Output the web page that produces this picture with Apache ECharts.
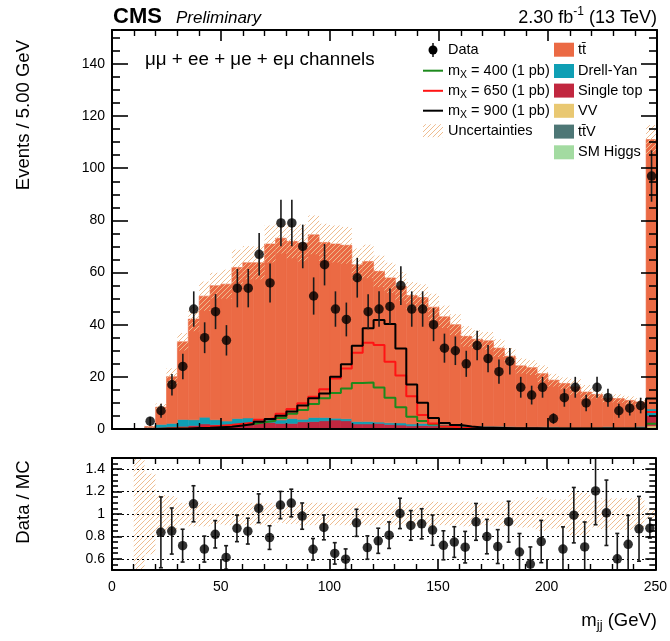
<!DOCTYPE html>
<html>
<head>
<meta charset="utf-8">
<script src="https://cdn.jsdelivr.net/npm/echarts@6/dist/echarts.min.js"></script>
<style>
  html, body { margin: 0; padding: 0; background: #fff; }
  #chart { width: 670px; height: 641px; }
</style>
</head>
<body>
<div id="chart"></div>
<script>
// ---- m_jj distribution, 5 GeV bins (last bin includes overflow) ----
const binWidth = 5;
const binCenters = [2.5, 7.5, 12.5, 17.5, 22.5, 27.5, 32.5, 37.5, 42.5, 47.5,
  52.5, 57.5, 62.5, 67.5, 72.5, 77.5, 82.5, 87.5, 92.5, 97.5,
  102.5, 107.5, 112.5, 117.5, 122.5, 127.5, 132.5, 137.5, 142.5, 147.5,
  152.5, 157.5, 162.5, 167.5, 172.5, 177.5, 182.5, 187.5, 192.5, 197.5,
  202.5, 207.5, 212.5, 217.5, 222.5, 227.5, 232.5, 237.5, 242.5, 247.5];

// Observed events per bin
const dataCounts = [0, 0, 0, 3, 7, 17, 24, 46, 35, 45,
  34, 54, 54, 67, 56, 79, 79, 70, 51, 63,
  46, 42, 58, 45, 46, 47, 55, 46, 46, 40,
  31, 30, 25, 32, 27, 22, 26, 16, 13, 16,
  4, 12, 16, 10, 16, 12, 7, 8, 9, 97];

// Background expectations per bin
const ttbarYield = [0, 0, 0.2, 0.4, 6.6, 17.9, 29.8, 38.6, 46.4, 51.4,
  52.5, 57.9, 59.5, 60.3, 67.3, 69.7, 67.9, 67.6, 70.0, 67.1,
  66.8, 66.5, 60.1, 61.4, 57.8, 55.6, 52.4, 49.3, 48.3, 44.9,
  41.3, 38.3, 34.3, 33.3, 32.8, 30.0, 27.0, 23.4, 22.7, 20.4,
  17.9, 16.8, 15.6, 13.6, 12.6, 11.0, 11.0, 10.3, 9.4, 103.3];
const dyYield = [0, 0, 0, 0.3, 1.2, 1.3, 2.6, 2.2, 2.6, 1.9,
  1.5, 1.9, 2.3, 1.1, 1.1, 1.3, 1.9, 1.0, 1.6, 1.3,
  0.7, 0.8, 0.9, 0.9, 0.5, 0.6, 0.8, 0.7, 0.8, 0.6,
  0.8, 0.8, 0.6, 0.5, 0.4, 0.5, 0.4, 0.3, 0.3, 0.3,
  0.4, 0.3, 0.2, 0.2, 0.3, 0.5, 0.3, 0.3, 0.5, 2.5];
const singleTopYield = [0, 0, 0, 0.1, 0.3, 0.5, 0.7, 1.0, 1.6, 1.3,
  1.2, 1.8, 1.6, 2.0, 2.2, 1.8, 1.8, 2.4, 2.5, 2.8,
  3.1, 2.8, 1.6, 1.6, 1.8, 1.4, 1.3, 1.0, 1.1, 1.0,
  0.7, 0.7, 0.4, 0.4, 0.4, 0.3, 0.3, 0.3, 0.3, 0.3,
  0.2, 0.2, 0.2, 0.2, 0.2, 0.2, 0.2, 0.2, 0.3, 4.0];
const vvYield = [0, 0, 0, 0.1, 0.2, 0.2, 0.2, 0.2, 0.2, 0.2,
  0.2, 0.2, 0.2, 0.2, 0.2, 0.2, 0.2, 0.2, 0.2, 0.2,
  0.2, 0.2, 0.2, 0.2, 0.2, 0.2, 0.1, 0.1, 0.1, 0.1,
  0.1, 0.1, 0.1, 0.1, 0.1, 0.1, 0.1, 0.1, 0.1, 0.1,
  0.1, 0.1, 0.1, 0.1, 0.1, 0.1, 0.1, 0.1, 0.1, 0.6];
const ttvYield = [0, 0, 0, 0.05, 0.05, 0.1, 0.1, 0.1, 0.1, 0.1,
  0.1, 0.1, 0.1, 0.1, 0.1, 0.1, 0.1, 0.1, 0.1, 0.1,
  0.1, 0.1, 0.1, 0.1, 0.1, 0.1, 0.1, 0.1, 0.1, 0.1,
  0.1, 0.1, 0.1, 0.1, 0.1, 0.1, 0.1, 0.1, 0.1, 0.1,
  0.1, 0.05, 0.05, 0.05, 0.05, 0.05, 0.05, 0.05, 0.05, 0.4];
const higgsYield = [0, 0, 0, 0.02, 0.02, 0.05, 0.05, 0.05, 0.05, 0.05,
  0.05, 0.05, 0.05, 0.05, 0.05, 0.05, 0.05, 0.05, 0.05, 0.05,
  0.05, 0.05, 0.05, 0.05, 0.05, 0.05, 0.02, 0.02, 0.02, 0.02,
  0.02, 0.02, 0.02, 0.02, 0.02, 0.02, 0.02, 0.02, 0.02, 0.02,
  0.02, 0.02, 0.02, 0.02, 0.02, 0.02, 0.02, 0.02, 0.02, 0.2];

// Relative uncertainty on the total background
const relUncertainty = [0, 0, 1, 0.36, 0.17, 0.16, 0.10, 0.11, 0.11, 0.09,
  0.10, 0.11, 0.10, 0.10, 0.10, 0.08, 0.09, 0.10, 0.10, 0.10,
  0.10, 0.10, 0.10, 0.10, 0.10, 0.10, 0.10, 0.10, 0.10, 0.11,
  0.10, 0.10, 0.11, 0.10, 0.10, 0.11, 0.11, 0.12, 0.12, 0.15,
  0.13, 0.13, 0.19, 0.19, 0.12, 0.14, 0.14, 0.14, 0.14, 0.05];

// Signal hypotheses normalised to 1 pb
const signal400 = [0, 0, 0, 0, 0.1, 0.2, 0.3, 0.4, 0.5, 0.9,
  1.3, 1.5, 1.9, 2.6, 3.2, 4.2, 5.8, 7.3, 9.6, 11.8,
  13.8, 15.5, 17.6, 17.8, 15.9, 12.0, 8.3, 4.7, 3.1, 1.8,
  1.0, 0.6, 0.4, 0.3, 0.3, 0.2, 0.2, 0.2, 0.1, 0.1,
  0.1, 0.1, 0.1, 0.1, 0.1, 0.1, 0.1, 0.1, 0.1, 2.0];
const signal650 = [0, 0, 0, 0, 0.1, 0.2, 0.3, 0.5, 0.9, 1.2,
  1.5, 2.0, 2.4, 3.5, 4.2, 5.8, 7.7, 9.9, 12.4, 15.2,
  19.4, 23.2, 29.2, 33.1, 32.2, 25.8, 20.5, 12.6, 5.4, 2.1,
  1.0, 0.6, 0.4, 0.3, 0.3, 0.2, 0.2, 0.2, 0.2, 0.1,
  0.1, 0.1, 0.1, 0.1, 0.1, 0.1, 0.1, 0.1, 0.1, 6.5];
const signal900 = [0, 0, 0, 0, 0.1, 0.1, 0.2, 0.4, 0.5, 0.7,
  0.9, 1.3, 1.9, 2.8, 3.8, 5.1, 6.7, 9.0, 11.8, 13.6,
  20.0, 24.8, 31.9, 38.6, 41.8, 40.3, 30.9, 17.1, 10.1, 4.2,
  2.3, 1.5, 1.0, 0.6, 0.5, 0.4, 0.3, 0.3, 0.3, 0.2,
  0.2, 0.2, 0.2, 0.2, 0.2, 0.2, 0.2, 0.2, 0.3, 11.7];

// Axis ticks
const yMax = 153;
const yTicksMajor = [0, 20, 40, 60, 80, 100, 120, 140];
const yTicksMinor = [5, 10, 15, 25, 30, 35, 45, 50, 55, 65, 70, 75, 85, 90, 95,
  105, 110, 115, 125, 130, 135, 145, 150];
const ratioTicksMajor = [0.6, 0.8, 1, 1.2, 1.4];
const ratioTicksMinor = [0.55, 0.65, 0.7, 0.75, 0.85, 0.9, 0.95, 1.05, 1.1, 1.15,
  1.25, 1.3, 1.35, 1.45];
const ratioGridLines = [0.6, 0.8, 1, 1.2, 1.4];

// ---- styling helpers ----
const FONT = "'Liberation Sans', Arial, Helvetica, sans-serif";
const HATCH_COLOR = '#eebd90';

function hatch(color) {
  const s = 5;
  const c = document.createElement('canvas');
  c.width = s; c.height = s;
  const g = c.getContext('2d');
  g.strokeStyle = color;
  g.lineWidth = 1;
  g.beginPath();
  for (let k = -1; k <= 1; k++) {
    g.moveTo(k * s, s);
    g.lineTo(k * s + s, 0);
  }
  g.stroke();
  return { image: c, repeat: 'repeat' };
}
const hatchFill = hatch(HATCH_COLOR);

function rectRenderer(fill, stroke) {
  return function (params, api) {
    const a = api.coord([api.value(0), api.value(2)]);
    const b = api.coord([api.value(1), api.value(3)]);
    const cs = params.coordSys;
    const shape = echarts.graphic.clipRectByRect(
      { x: a[0], y: b[1], width: b[0] - a[0], height: a[1] - b[1] },
      { x: cs.x, y: cs.y, width: cs.width, height: cs.height });
    if (!shape) return null;
    return {
      type: 'rect', shape: shape,
      style: { fill: fill, stroke: stroke || null, lineWidth: stroke ? 0.6 : 0 }
    };
  };
}

function errorBarRenderer(withCaps) {
  return function (params, api) {
    const x = api.value(0);
    const lo = api.coord([x, api.value(2)]);
    const hi = api.coord([x, api.value(3)]);
    const cs = params.coordSys;
    const yTop = Math.max(hi[1], cs.y);
    const yBot = Math.min(lo[1], cs.y + cs.height);
    const st = { stroke: '#1a1a1a', lineWidth: 1.6 };
    const children = [{ type: 'line', shape: { x1: lo[0], y1: yTop, x2: lo[0], y2: yBot }, style: st }];
    if (withCaps) {
      if (hi[1] >= cs.y) children.push({ type: 'line', shape: { x1: lo[0] - 2, y1: hi[1], x2: lo[0] + 2, y2: hi[1] }, style: st });
      if (lo[1] <= cs.y + cs.height) children.push({ type: 'line', shape: { x1: lo[0] - 2, y1: lo[1], x2: lo[0] + 2, y2: lo[1] }, style: st });
    }
    return { type: 'group', children: children };
  };
}

// ---- background stack (drawn bottom to top) ----
const stackOrder = [
  { name: 'SM Higgs', values: higgsYield, color: '#a3dba1' },
  { name: 'tt\u0304V', values: ttvYield, color: '#4e7776' },
  { name: 'VV', values: vvYield, color: '#e9c872' },
  { name: 'Single top', values: singleTopYield, color: '#c1273f' },
  { name: 'Drell-Yan', values: dyYield, color: '#0f9fb4' },
  { name: 'tt\u0304', values: ttbarYield, color: '#eb6a44' }
];

const cumulative = binCenters.map(() => 0);
const stackSeries = stackOrder.map(comp => {
  const items = [];
  binCenters.forEach((c, k) => {
    const lo = cumulative[k];
    const hi = lo + comp.values[k];
    cumulative[k] = hi;
    if (hi > lo) items.push([c - binWidth / 2, c + binWidth / 2, lo, hi]);
  });
  return {
    type: 'custom', name: comp.name, xAxisIndex: 0, yAxisIndex: 0,
    renderItem: rectRenderer(comp.color, comp.color),
    encode: { x: [0, 1], y: [2, 3] }, data: items, z: 2, silent: true, clip: true
  };
});
const mcTotal = cumulative.slice();

// Uncertainty bands
const mainBand = [];
const ratioBand = [];
binCenters.forEach((c, k) => {
  if (mcTotal[k] <= 0) return;
  const u = relUncertainty[k];
  mainBand.push([c - binWidth / 2, c + binWidth / 2, mcTotal[k] * (1 - u), mcTotal[k] * (1 + u)]);
  ratioBand.push([c - binWidth / 2, c + binWidth / 2, 1 - u, 1 + u]);
});

// Data points and Data/MC ratio
const dataPoints = [];
const dataErrors = [];
const ratioPoints = [];
const ratioErrors = [];
binCenters.forEach((c, k) => {
  const n = dataCounts[k];
  if (n <= 0) return;
  const err = Math.sqrt(n);
  dataPoints.push([c, n]);
  dataErrors.push([c, n, n - err, n + err]);
  const mc = mcTotal[k];
  if (mc <= 0) return;
  const r = n / mc;
  if (r < 0.5 || r > 1.5) return;
  ratioPoints.push([c, r]);
  ratioErrors.push([c, r, r - err / mc, r + err / mc]);
});

// Signal outlines
const signals = [
  { mass: '400', values: signal400, color: '#1d8a1d' },
  { mass: '650', values: signal650, color: '#ff1414' },
  { mass: '900', values: signal900, color: '#000000' }
];
const signalSeries = signals.map(s => ({
  type: 'line', name: 'mX' + s.mass, xAxisIndex: 0, yAxisIndex: 0,
  step: 'end', symbol: 'none', silent: true, z: 4,
  lineStyle: { color: s.color, width: 2 },
  data: binCenters.map((c, k) => [c - binWidth / 2, s.values[k]])
    .concat([[binCenters[binCenters.length - 1] + binWidth / 2, s.values[s.values.length - 1]]])
}));

// ---- axes ----
const frameLine = { show: true, onZero: false, lineStyle: { color: '#000', width: 2 } };
const tickStyle = { color: '#000', width: 1.6 };

function xAxisDef(grid, pos, labels) {
  return {
    type: 'value', gridIndex: grid, position: pos, min: 0, max: 250, interval: 50, z: 10,
    axisLine: frameLine,
    axisTick: { show: true, inside: true, length: 11, lineStyle: tickStyle },
    minorTick: { show: true, splitNumber: 5, length: 6, lineStyle: { color: '#000', width: 1.4 } },
    axisLabel: { show: labels, fontSize: 14, fontFamily: FONT, color: '#000', margin: 10 },
    splitLine: { show: false }, minorSplitLine: { show: false }
  };
}
function yAxisDef(grid, pos, min, max, ticks, len, labels, line) {
  return {
    type: 'value', gridIndex: grid, position: pos, min: min, max: max, z: 10,
    axisLine: line ? frameLine : { show: false, onZero: false },
    axisTick: { show: true, inside: true, length: len, customValues: ticks, lineStyle: tickStyle },
    axisLabel: labels
      ? { show: true, customValues: ticks, fontSize: 14, fontFamily: FONT, color: '#000', margin: 7,
          formatter: v => String(v) }
      : { show: false },
    splitLine: { show: false }
  };
}

// ---- text helpers ----
const measureCtx = document.createElement('canvas').getContext('2d');
function textWidth(t, size, weight, style) {
  measureCtx.font = (style || 'normal') + ' ' + (weight || 'normal') + ' ' + size + 'px ' + FONT;
  return measureCtx.measureText(t).width;
}
function textRun(parts, x, y, align, baseSize) {
  const sized = parts.map(p => Object.assign({ size: baseSize, dy: 0 }, p));
  const widths = sized.map(p => textWidth(p.t, p.size, p.weight, p.style));
  const total = widths.reduce((a, b) => a + b, 0);
  let cx = align === 'right' ? x - total : align === 'center' ? x - total / 2 : x;
  return sized.map((p, i) => {
    const el = {
      type: 'text', x: cx, y: y + p.dy, silent: true, z: 100,
      style: {
        text: p.t, fill: '#000', fontSize: p.size, fontFamily: FONT,
        fontWeight: p.weight || 'normal', fontStyle: p.style || 'normal',
        align: 'left', verticalAlign: 'middle'
      }
    };
    cx += widths[i];
    return el;
  });
}

const graphics = [];
// header
graphics.push(...textRun([{ t: 'CMS', weight: 'bold' }], 113, 16.5, 'left', 22));
graphics.push(...textRun([{ t: 'Preliminary', style: 'italic' }], 176, 18, 'left', 17));
graphics.push(...textRun([{ t: '2.30 fb' }, { t: '-1', size: 12, dy: -6 }, { t: ' (13 TeV)' }], 657, 18, 'right', 18));
// channel label
graphics.push(...textRun([{ t: '\u03bc\u03bc + ee + \u03bce + e\u03bc channels' }], 145, 60, 'left', 18.8));
// axis titles
graphics.push({
  type: 'text', x: 24, y: 40, rotation: Math.PI / 2, silent: true, z: 100,
  style: { text: 'Events / 5.00 GeV', fill: '#000', fontSize: 18.5, fontFamily: FONT, align: 'right', verticalAlign: 'middle' }
});
graphics.push({
  type: 'text', x: 24, y: 502, rotation: Math.PI / 2, silent: true, z: 100,
  style: { text: 'Data / MC', fill: '#000', fontSize: 18.5, fontFamily: FONT, align: 'center', verticalAlign: 'middle' }
});
graphics.push(...textRun([{ t: 'm' }, { t: 'jj', size: 13, dy: 5 }, { t: ' (GeV)' }], 657, 620.5, 'right', 18.5));

// legend, left column
const legendRowsLeft = [50, 70.7, 90.8, 110.7, 130.7];
graphics.push({ type: 'line', silent: true, z: 100, shape: { x1: 433, y1: legendRowsLeft[0] - 7, x2: 433, y2: legendRowsLeft[0] + 7 }, style: { stroke: '#1a1a1a', lineWidth: 1.6 } });
graphics.push({ type: 'circle', silent: true, z: 100, shape: { cx: 433, cy: legendRowsLeft[0], r: 4.5 }, style: { fill: '#000' } });
graphics.push(...textRun([{ t: 'Data' }], 448, legendRowsLeft[0], 'left', 14.5));
signals.forEach((s, i) => {
  const y = legendRowsLeft[i + 1];
  graphics.push({ type: 'line', silent: true, z: 100, shape: { x1: 423, y1: y, x2: 443, y2: y }, style: { stroke: s.color, lineWidth: 2 } });
  graphics.push(...textRun([{ t: 'm' }, { t: 'X', size: 10.5, dy: 4 }, { t: ' = ' + s.mass + ' (1 pb)' }], 448, y, 'left', 14.5));
});
graphics.push({ type: 'rect', silent: true, z: 100, shape: { x: 423, y: legendRowsLeft[4] - 6.5, width: 20, height: 13 }, style: { fill: hatchFill } });
graphics.push(...textRun([{ t: 'Uncertainties' }], 448, legendRowsLeft[4], 'left', 14.5));

// legend, right column (top of stack first)
const legendRowsRight = [49.7, 71, 90.6, 110.8, 131.6, 152.3];
stackOrder.slice().reverse().forEach((comp, i) => {
  const y = legendRowsRight[i];
  graphics.push({ type: 'rect', silent: true, z: 100, shape: { x: 554, y: y - 7, width: 20, height: 14 }, style: { fill: comp.color } });
  graphics.push(...textRun([{ t: comp.name }], 578, y, 'left', 14.5));
});

// ---- chart ----
const chart = echarts.init(document.getElementById('chart'), null, { renderer: 'canvas' });
chart.setOption({
  animation: false,
  backgroundColor: '#fff',
  grid: [
    { left: 112, top: 30, width: 545, height: 399 },
    { left: 112, top: 458, width: 545, height: 112 }
  ],
  xAxis: [
    xAxisDef(0, 'bottom', false),
    xAxisDef(0, 'top', false),
    xAxisDef(1, 'bottom', true),
    xAxisDef(1, 'top', false)
  ],
  yAxis: [
    yAxisDef(0, 'left', 0, yMax, yTicksMajor, 16, true, true),
    yAxisDef(0, 'left', 0, yMax, yTicksMinor, 8, false, false),
    yAxisDef(0, 'right', 0, yMax, yTicksMajor, 16, false, true),
    yAxisDef(0, 'right', 0, yMax, yTicksMinor, 8, false, false),
    yAxisDef(1, 'left', 0.5, 1.5, ratioTicksMajor, 10, true, true),
    yAxisDef(1, 'left', 0.5, 1.5, ratioTicksMinor, 6, false, false),
    yAxisDef(1, 'right', 0.5, 1.5, ratioTicksMajor, 10, false, true),
    yAxisDef(1, 'right', 0.5, 1.5, ratioTicksMinor, 6, false, false)
  ],
  series: [
    ...stackSeries,
    {
      type: 'custom', name: 'Uncertainties', xAxisIndex: 0, yAxisIndex: 0,
      renderItem: rectRenderer(hatchFill), encode: { x: [0, 1], y: [2, 3] },
      data: mainBand, z: 3, silent: true, clip: true
    },
    ...signalSeries,
    {
      type: 'custom', name: 'DataErr', xAxisIndex: 0, yAxisIndex: 0,
      renderItem: errorBarRenderer(false), encode: { x: 0, y: [1, 2, 3] },
      data: dataErrors, z: 5, silent: true, clip: true
    },
    {
      type: 'scatter', name: 'Data', xAxisIndex: 0, yAxisIndex: 0,
      symbol: 'circle', symbolSize: 9.5, itemStyle: { color: '#000' },
      data: dataPoints, z: 6, silent: true
    },
    // ratio panel
    {
      type: 'custom', name: 'RatioBand', xAxisIndex: 2, yAxisIndex: 4,
      renderItem: rectRenderer(hatchFill), encode: { x: [0, 1], y: [2, 3] },
      data: ratioBand, z: 2, silent: true, clip: true
    },
    {
      type: 'line', name: 'RatioGrid', xAxisIndex: 2, yAxisIndex: 4, data: [], z: 3, silent: true,
      markLine: {
        silent: true, symbol: ['none', 'none'], label: { show: false }, animation: false,
        lineStyle: { color: '#000', type: [2, 3], width: 1 },
        data: ratioGridLines.map(v => ({ yAxis: v }))
      }
    },
    {
      type: 'custom', name: 'RatioErr', xAxisIndex: 2, yAxisIndex: 4,
      renderItem: errorBarRenderer(true), encode: { x: 0, y: [1, 2, 3] },
      data: ratioErrors, z: 5, silent: true, clip: true
    },
    {
      type: 'scatter', name: 'Ratio', xAxisIndex: 2, yAxisIndex: 4,
      symbol: 'circle', symbolSize: 9.5, itemStyle: { color: '#000' },
      data: ratioPoints, z: 6, silent: true
    }
  ],
  graphic: { elements: graphics }
});
</script>
</body>
</html>
